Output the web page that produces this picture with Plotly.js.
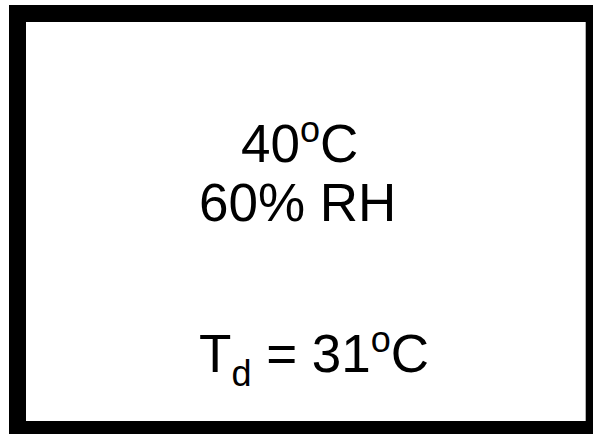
<!DOCTYPE html>
<html>
<head>
<meta charset="utf-8">
<script src="https://cdn.plot.ly/plotly-3.0.1.min.js"></script>
<style>html,body{margin:0;padding:0;background:#fff;}#chart{width:593px;height:434px;}</style>
</head>
<body>
<div id="chart"></div>
<script>
// Text content of the diagram
const DEG = '<span style="font-size:36px;baseline-shift:20px">o</span>';
const SUBD = '<span style="font-size:36px;baseline-shift:-14px">d</span>';
const labels = ["40" + DEG + "C", "60% RH", "T" + SUBD + " = 31" + DEG + "C"];
// Left edges (px) and vertical middles (px) of each text line
const labelX = [239, 197, 197];
const labelY = [141, 202, 356];

const W = 593, H = 434;
const annotations = labels.map((t, i) => ({
  text: t,
  xref: 'paper', yref: 'paper',
  x: labelX[i] / W, y: 1 - labelY[i] / H,
  xanchor: 'left', yanchor: 'middle',
  showarrow: false,
  font: {family: 'Liberation Sans, Arial, sans-serif', size: 53, color: '#000'}
}));

const layout = {
  width: W, height: H,
  margin: {l: 0, r: 0, t: 0, b: 0},
  paper_bgcolor: '#fff', plot_bgcolor: '#fff',
  xaxis: {visible: false, range: [0, 1], fixedrange: true},
  yaxis: {visible: false, range: [0, 1], fixedrange: true},
  showlegend: false,
  shapes: [{
    type: 'rect', xref: 'paper', yref: 'paper',
    x0: 17.5 / W, x1: 594.2 / W,
    y0: 1 - 13.5 / H, y1: 1 - 429.5 / H,
    line: {color: '#000', width: 17},
    fillcolor: 'rgba(0,0,0,0)'
  }],
  annotations: annotations
};

Plotly.newPlot('chart', [], layout, {displayModeBar: false, staticPlot: true});
</script>
</body>
</html>
